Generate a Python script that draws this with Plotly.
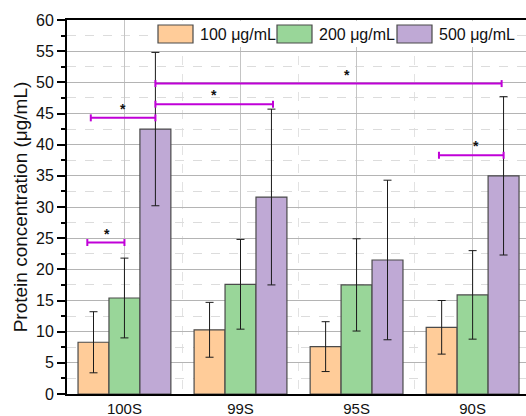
import plotly.graph_objects as go

# ---- data ----
categories = ["100S", "99S", "95S", "90S"]
series_names = ["100 μg/mL", "200 μg/mL", "500 μg/mL"]
conc_100 = [8.3, 10.3, 7.6, 10.7]
err_100 = [4.9, 4.4, 4.0, 4.3]
conc_200 = [15.4, 17.6, 17.5, 15.9]
err_200 = [6.4, 7.2, 7.4, 7.1]
conc_500 = [42.5, 31.6, 21.5, 35.0]
err_500 = [12.3, 14.1, 12.8, 12.7]

# significance brackets (x in category units, y in data units)
sig_x0 = [-0.32, -0.29, 0.267, 0.267, 2.71]
sig_x1 = [0.0, 0.267, 1.28, 3.25, 3.267]
sig_y = [24.3, 44.3, 46.5, 49.8, 38.3]
star_x = [-0.15, -0.01, 0.77, 1.92, 3.03]

colors = ["#FFCC99", "#99D699", "#BFA9D5"]
values = [conc_100, conc_200, conc_500]
errors = [err_100, err_200, err_500]

W, H = 526, 416
L, R, T, B = 67, 0, 20, 22
xpos = list(range(len(categories)))

fig = go.Figure()
for name, vals, errs, col in zip(series_names, values, errors, colors):
    fig.add_trace(go.Bar(
        x=xpos, y=vals, name=name,
        marker=dict(color=col, line=dict(color="#4a4a4a", width=1.2)),
        error_y=dict(type="data", array=errs, visible=True,
                     color="#1a1a1a", thickness=1, width=4),
        showlegend=False,
    ))

MAG = "#C000D8"
shapes = []
annotations = []
for x0, x1, y, sx in zip(sig_x0, sig_x1, sig_y, star_x):
    shapes.append(dict(type="line", xref="x", yref="y", x0=x0, x1=x1, y0=y, y1=y,
                       line=dict(color=MAG, width=2)))
    for xe in (x0, x1):
        shapes.append(dict(type="line", xref="x", yref="y", x0=xe, x1=xe,
                           ysizemode="pixel", yanchor=y, y0=-3.5, y1=3.5,
                           line=dict(color=MAG, width=2)))
    annotations.append(dict(x=sx, y=y, xref="x", yref="y", text="<b>*</b>",
                            showarrow=False, yanchor="bottom", yshift=-1,
                            font=dict(size=14, color="#111111")))

# manual legend (large swatches like the original)
pw = W - L - R
ph = H - T - B
def px(X):
    return (X - L) / pw
def py(Y):
    return (H - B - Y) / ph

shapes.append(dict(type="rect", xref="paper", yref="paper",
                   x0=px(152), x1=px(516), y0=py(47), y1=py(21),
                   fillcolor="white", line=dict(width=0), layer="above"))
box_x = [158, 277, 397]
for bx, col, name in zip(box_x, colors, series_names):
    shapes.append(dict(type="rect", xref="paper", yref="paper",
                       x0=px(bx), x1=px(bx + 35), y0=py(43), y1=py(25),
                       fillcolor=col, line=dict(color="#4a4a4a", width=1.2), layer="above"))
    annotations.append(dict(x=px(bx + 40), y=py(34), xref="paper", yref="paper",
                            text=name, showarrow=False, xanchor="left", yanchor="middle",
                            font=dict(size=16, color="#111111")))

fig.update_layout(
    width=W, height=H,
    margin=dict(l=L, r=R, t=T, b=B, pad=0, autoexpand=False),
    paper_bgcolor="white", plot_bgcolor="white",
    font=dict(family="Liberation Sans, Arial, sans-serif", color="#111111"),
    barmode="group", bargap=0.2, bargroupgap=0,
    shapes=shapes, annotations=annotations,
    showlegend=False,
)
fig.update_xaxes(
    automargin=False,
    range=[-0.495, 3.46],
    tickmode="array", tickvals=xpos, ticktext=categories,
    tickfont=dict(size=15),
    ticks="", 
    showline=True, linecolor="black", linewidth=2, mirror=True,
    showgrid=True, gridcolor="#C4C4C4", gridwidth=1,
    minor=dict(tick0=0.5, dtick=1, showgrid=True, gridcolor="#E2E2E2",
               griddash="dash", ticks=""),
    zeroline=False,
)
fig.update_yaxes(
    automargin=False,
    range=[0, 60], tickmode="linear", tick0=0, dtick=5,
    tickfont=dict(size=16),
    ticks="outside", ticklen=8, tickwidth=2, tickcolor="black",
    showline=True, linecolor="black", linewidth=2,
    showgrid=True, gridcolor="#B4B4B4", gridwidth=1,
    minor=dict(dtick=2.5, ticks="outside", ticklen=4, tickwidth=2, tickcolor="black",
               showgrid=True, gridcolor="#DCDCDC", griddash="dash"),
    zeroline=False,
    title=dict(text="Protein concentration (μg/mL)", font=dict(size=19), standoff=3),
)

fig.write_html(
    "out.html",
    config={"displayModeBar": False},
    post_script="document.body.style.margin='0';document.body.style.overflow='hidden';"
                "document.documentElement.style.overflow='hidden';",
)
